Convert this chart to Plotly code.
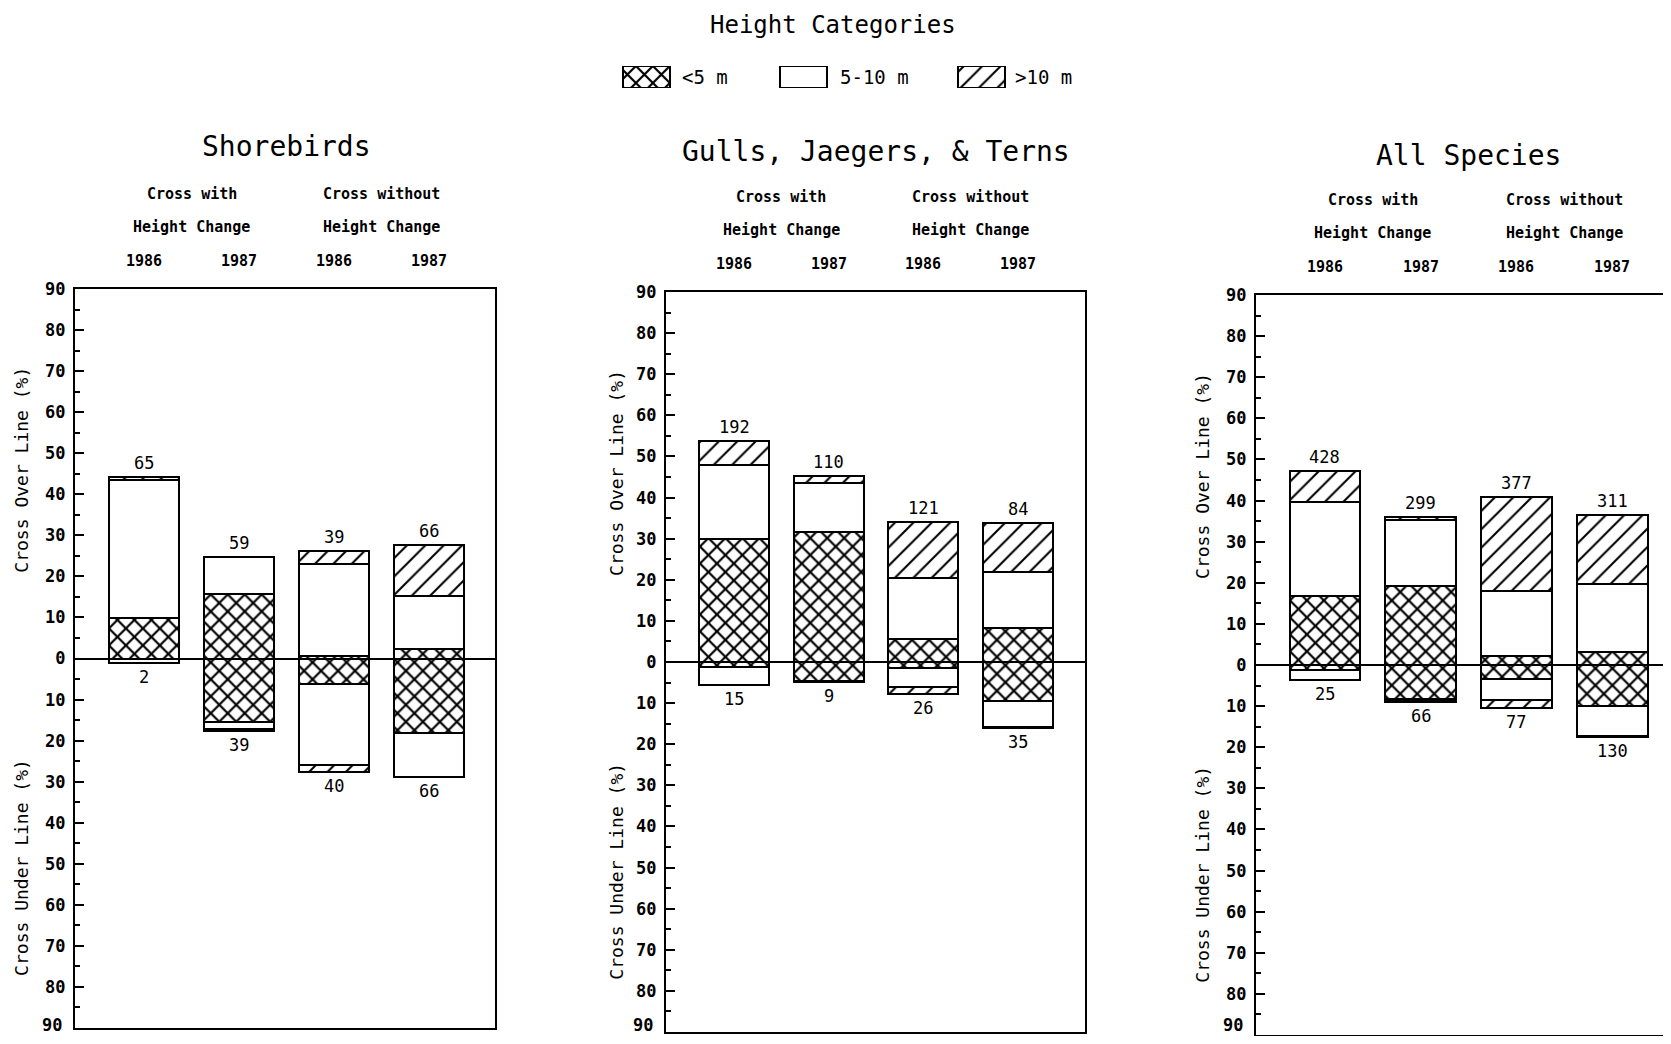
import plotly.graph_objects as go

W, H = 1671, 1044
OFF = 8                      # default page body margin
FW, FH = W - 2 * OFF, H - 2 * OFF

# ---------------- data ----------------
years = ["1986", "1987", "1986", "1987"]
group_labels = ["Cross with<br>Height Change", "Cross without<br>Height Change"]
height_classes = ["<5 m", "5-10 m", ">10 m"]
panel_titles = ["Shorebirds", "Gulls, Jaegers, & Terns", "All Species"]

# Shorebirds (% of birds), over = above line, under = below line
sb_over_lt5 = [9.8, 15.6, 0.5, 2.3]
sb_over_5_10 = [33.7, 9.2, 22.6, 13.0]
sb_over_gt10 = [0.6, 0.0, 3.0, 12.4]
sb_under_lt5 = [0.0, 15.5, 6.3, 18.2]
sb_under_5_10 = [1.0, 1.7, 19.7, 10.7]
sb_under_gt10 = [0.0, 0.4, 1.7, 0.0]
sb_n_over = [65, 59, 39, 66]
sb_n_under = [2, 39, 40, 66]

# Gulls, Jaegers & Terns
gu_over_lt5 = [29.8, 31.6, 5.5, 8.2]
gu_over_5_10 = [18.0, 11.9, 14.9, 13.8]
gu_over_gt10 = [5.9, 1.8, 13.6, 11.7]
gu_under_lt5 = [1.2, 4.5, 1.4, 9.6]
gu_under_5_10 = [4.3, 0.3, 4.6, 6.2]
gu_under_gt10 = [0.0, 0.0, 1.9, 0.3]
gu_n_over = [192, 110, 121, 84]
gu_n_under = [15, 9, 26, 35]

# All species
al_over_lt5 = [16.7, 19.3, 2.3, 3.1]
al_over_5_10 = [22.9, 16.0, 15.7, 16.5]
al_over_gt10 = [7.7, 0.8, 22.8, 16.9]
al_under_lt5 = [1.2, 8.2, 3.4, 10.0]
al_under_5_10 = [2.5, 0.4, 5.2, 7.3]
al_under_gt10 = [0.0, 0.4, 1.8, 0.3]
al_n_over = [428, 299, 377, 311]
al_n_under = [25, 66, 77, 130]

y_tick_vals = list(range(-90, 91, 10))
y_tick_text = [str(abs(v)) for v in y_tick_vals]
Y_MIN = y_tick_vals[0]

# ---------------- styling ----------------
FONT = "DejaVu Sans Mono"
patterns = {
    "<5 m": dict(shape="x", fgcolor="black", fgopacity=1, fillmode="overlay", size=12, solidity=0.33),
    "5-10 m": dict(shape="", fgcolor="black", fillmode="overlay"),
    ">10 m": dict(shape="/", fgcolor="black", fgopacity=1, fillmode="overlay", size=13, solidity=0.16),
}

def px_x(x):
    return min(1.0, max(0.0, (x - OFF) / FW))

def px_y(y):
    return min(1.0, max(0.0, 1 - (y - OFF) / FH))

# panel geometry in screen pixels: (left, right, top, bottom), x range
panels = [
    dict(box=(75, 495, 289, 1028), xr=[-0.73, 3.70], ytitle_x=22, tshift=142),
    dict(box=(666, 1085, 292, 1032), xr=[-0.72, 3.71], ytitle_x=617, tshift=141),
    dict(box=(1256, 1671, 295, 1035), xr=[-0.72, 3.53], ytitle_x=1203, tshift=140),
]

data_sets = [
    (sb_over_lt5, sb_over_5_10, sb_over_gt10, sb_under_lt5, sb_under_5_10, sb_under_gt10, sb_n_over, sb_n_under),
    (gu_over_lt5, gu_over_5_10, gu_over_gt10, gu_under_lt5, gu_under_5_10, gu_under_gt10, gu_n_over, gu_n_under),
    (al_over_lt5, al_over_5_10, al_over_gt10, al_under_lt5, al_under_5_10, al_under_gt10, al_n_over, al_n_under),
]

fig = go.Figure()
annotations = []
xpos = list(range(len(years)))

def clean(vals, sign=1):
    return [sign * v if v else None for v in vals]

def ann(**kw):
    kw.setdefault("showarrow", False)
    kw.setdefault("xanchor", "center")
    kw.setdefault("yanchor", "middle")
    annotations.append(kw)

TICKFONT = dict(family=FONT, size=17, color="black", weight="bold")

for i, (pan, ds) in enumerate(zip(panels, data_sets)):
    k = "" if i == 0 else str(i + 1)
    xa, ya = "x" + k, "y" + k
    ov = ds[0:3]
    un = ds[3:6]
    n_over, n_under = ds[6], ds[7]
    for sign, block in ((1, ov), (-1, un)):
        for cls, vals in zip(height_classes, block):
            fig.add_trace(go.Bar(x=xpos, y=clean(vals, sign), xaxis=xa, yaxis=ya, width=0.74,
                                 marker=dict(color="white", line=dict(color="black", width=2),
                                             pattern=patterns[cls]),
                                 showlegend=False, hoverinfo="skip"))
    # totals
    tops = [sum(v) for v in zip(*ov)]
    bots = [-sum(v) for v in zip(*un)]
    for j in xpos:
        ann(x=j, y=tops[j], xref=xa, yref=ya, text=str(n_over[j]), yshift=14,
            font=dict(family=FONT, size=17, color="black"))
        ann(x=j, y=bots[j], xref=xa, yref=ya, text=str(n_under[j]), yshift=-14,
            font=dict(family=FONT, size=17, color="black"))
        ann(x=j, y=1, xref=xa, yref=ya + " domain", text=years[j], yshift=28,
            font=dict(family=FONT, size=15, color="black", weight="bold"))
    # group headers
    for g, lab in enumerate(group_labels):
        line1, line2 = lab.split("<br>")
        xc = 2 * g + 0.5
        ann(x=xc, y=1, xref=xa, yref=ya + " domain", text=line1, yshift=95,
            font=dict(family=FONT, size=15, color="black", weight="bold"))
        ann(x=xc, y=1, xref=xa, yref=ya + " domain", text=line2, yshift=62,
            font=dict(family=FONT, size=15, color="black", weight="bold"))
    # panel title
    ann(x=1.5, y=1, xref=xa, yref=ya + " domain", text=panel_titles[i], yshift=pan["tshift"],
        font=dict(family=FONT, size=28, color="black"))
    # y titles
    ann(x=px_x(pan["ytitle_x"]), y=46, xref="paper", yref=ya, text="Cross Over Line (%)",
        textangle=-90, font=dict(family=FONT, size=18, color="black"))
    ann(x=px_x(pan["ytitle_x"]), y=-51, xref="paper", yref=ya, text="Cross Under Line (%)",
        textangle=-90, font=dict(family=FONT, size=18, color="black"))

    l, r, t, b = pan["box"]
    # the lowest tick label sits at the page edge: draw it as text kept inside the page
    tick_text = [""] + y_tick_text[1:]
    ann(x=px_x(l - 11), y=px_y(min(b, 1025)), xref="paper", yref="paper", text=y_tick_text[0],
        xanchor="right", font=TICKFONT)

    fig.update_layout(**{
        "xaxis" + k: dict(domain=[px_x(l), px_x(r)], range=pan["xr"], showticklabels=False, ticks="",
                          showgrid=False, zeroline=False, showline=True, linecolor="black", linewidth=2,
                          mirror=True, anchor=ya, fixedrange=True, automargin=False),
        "yaxis" + k: dict(domain=[px_y(b), px_y(t)], range=[Y_MIN, 90], tickvals=y_tick_vals, ticktext=tick_text,
                          ticks="inside", ticklen=9, tickwidth=2, tickcolor="black",
                          minor=dict(dtick=5, ticks="inside", ticklen=5, tickwidth=1.5, tickcolor="black", tick0=-90),
                          showgrid=False, zeroline=True, zerolinecolor="black", zerolinewidth=2,
                          showline=True, linecolor="black", linewidth=2, mirror=True, anchor=xa,
                          ticklabelstandoff=4, ticklabeloverflow="allow", automargin=False,
                          tickfont=TICKFONT, fixedrange=True),
    })

# ---------------- legend drawn as a small bar strip ----------------
legend_centers = [646, 803, 981]
legend_text_left = [680, 838, 1013]
for cls, xc in zip(height_classes, legend_centers):
    fig.add_trace(go.Bar(x=[xc], y=[1], xaxis="x4", yaxis="y4", width=47,
                         marker=dict(color="white", line=dict(color="black", width=2), pattern=patterns[cls]),
                         showlegend=False, hoverinfo="skip"))
for cls, xl in zip(height_classes, legend_text_left):
    ann(x=px_x(xl), y=px_y(77), xref="paper", yref="paper", text=cls, xanchor="left",
        font=dict(family=FONT, size=19, color="black"))
ann(x=px_x(833), y=px_y(25), xref="paper", yref="paper", text="Height Categories",
    font=dict(family=FONT, size=24, color="black"))

fig.update_layout(
    xaxis4=dict(domain=[0, 1], range=[OFF, OFF + FW], visible=False, fixedrange=True, anchor="y4", automargin=False),
    yaxis4=dict(domain=[px_y(88), px_y(66)], range=[0, 1], visible=False, fixedrange=True, anchor="x4", automargin=False),
)

fig.update_layout(
    width=FW, height=FH, margin=dict(l=0, r=0, t=0, b=0, autoexpand=False),
    barmode="relative", bargap=0,
    plot_bgcolor="white", paper_bgcolor="white",
    annotations=annotations, showlegend=False,
)

fig.write_html("out.html")
